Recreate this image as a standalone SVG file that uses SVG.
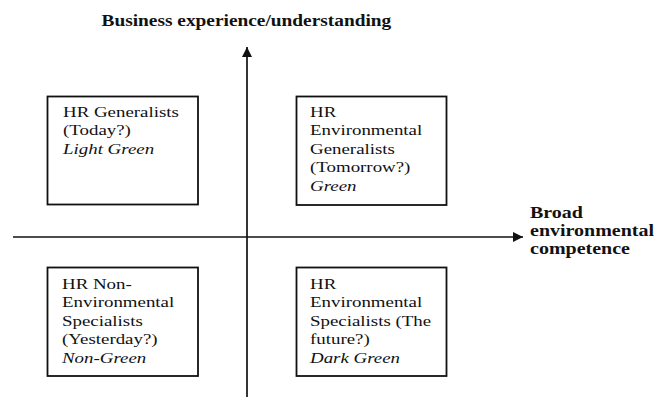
<svg xmlns="http://www.w3.org/2000/svg" width="661" height="397" viewBox="0 0 661 397">
<style>
.box{fill:#fff;stroke:#111;stroke-width:1.8}
.t{font-family:"Liberation Serif","Times New Roman",serif;font-size:15.5px;fill:#111}
.i{font-style:italic}
.b{font-family:"Liberation Serif","Times New Roman",serif;font-size:16px;font-weight:bold;fill:#111}
.ax{stroke:#111;stroke-width:1.7;fill:none}
</style>
<defs>
<marker id="ah" viewBox="0 0 10 10" refX="10" refY="5" markerWidth="6" markerHeight="6" markerUnits="strokeWidth" orient="auto">
<path d="M0,0 L10,5 L0,10 Z" fill="#111"/>
</marker>
</defs>
<rect width="661" height="397" fill="#fff"/>
<g id="connectors">
<line class="ax" x1="247" y1="397" x2="247" y2="47" marker-end="url(#ah)"/>
<line class="ax" x1="13" y1="237" x2="523" y2="237" marker-end="url(#ah)"/>
</g>
<g id="y-label">
<text class="b" transform="translate(101.5,26) scale(1.21,1)">Business experience/understanding</text>
</g>
<g id="x-label">
<text class="b" transform="translate(530,217.5) scale(1.25,1)"><tspan x="0">Broad</tspan><tspan x="0" dy="18.5">environmental</tspan><tspan x="0" dy="18.5">competence</tspan></text>
</g>
<g id="hr-generalists">
<rect class="box" x="47.5" y="96.5" width="150.5" height="108"/>
<text class="t" transform="translate(63,117) scale(1.22,1)"><tspan x="0">HR Generalists</tspan><tspan x="0" dy="18.5">(Today?)</tspan><tspan x="0" dy="18.5" class="i">Light Green</tspan></text>
</g>
<g id="hr-env-generalists">
<rect class="box" x="296.5" y="96.5" width="150" height="108.5"/>
<text class="t" transform="translate(310,117) scale(1.22,1)"><tspan x="0">HR</tspan><tspan x="0" dy="18.5">Environmental</tspan><tspan x="0" dy="18.5">Generalists</tspan><tspan x="0" dy="18.5">(Tomorrow?)</tspan><tspan x="0" dy="18.5" class="i">Green</tspan></text>
</g>
<g id="hr-non-env-specialists">
<rect class="box" x="47.5" y="267.5" width="150.5" height="108.5"/>
<text class="t" transform="translate(62,289) scale(1.22,1)"><tspan x="0">HR Non-</tspan><tspan x="0" dy="18.4">Environmental</tspan><tspan x="0" dy="18.4">Specialists</tspan><tspan x="0" dy="18.4">(Yesterday?)</tspan><tspan x="0" dy="18.4" class="i">Non-Green</tspan></text>
</g>
<g id="hr-env-specialists">
<rect class="box" x="296.5" y="267.5" width="150" height="108.5"/>
<text class="t" transform="translate(310,289) scale(1.22,1)"><tspan x="0">HR</tspan><tspan x="0" dy="18.4">Environmental</tspan><tspan x="0" dy="18.4">Specialists (The</tspan><tspan x="0" dy="18.4">future?)</tspan><tspan x="0" dy="18.4" class="i">Dark Green</tspan></text>
</g>
</svg>
